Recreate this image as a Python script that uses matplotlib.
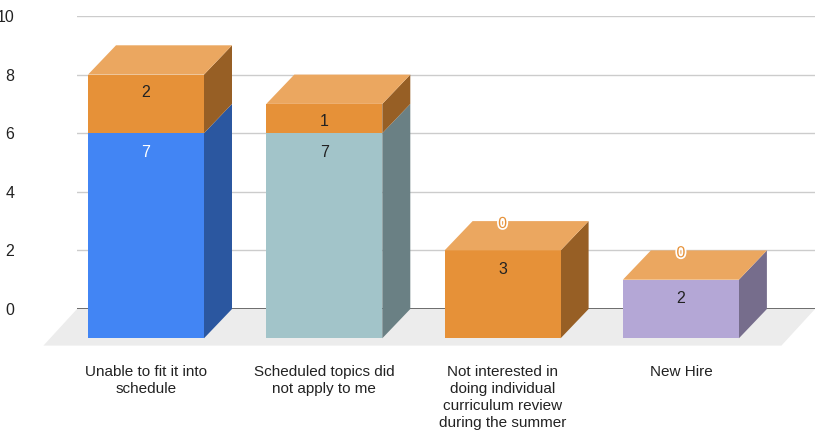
import numpy as np
import matplotlib
matplotlib.use("Agg")
import matplotlib.pyplot as plt
import matplotlib.patheffects as pe
from matplotlib.patches import Polygon

plt.rcParams['font.family'] = ['Liberation Sans', 'DejaVu Sans']

categories = ["Unable to fit it into\nschedule",
              "Scheduled topics did\nnot apply to me",
              "Not interested in\ndoing individual\ncurriculum review\nduring the summer",
              "New Hire"]
first_series = [7, 7, 3, 2]
second_series = [2, 1, 0, 0]
first_colors = ["#4285f4", "#a2c4c9", "#e69138", "#b4a7d6"]
first_label_colors = ["white", "#222222", "#222222", "#222222"]
second_color = "#e69138"
yticks = [0, 2, 4, 6, 8, 10]

W, H = 817, 438
# plot area in pixels
L, R, T, B = 77, 815, 16, 309
STEP = 178.3       # px between bars
DX = 28 / STEP     # side depth in category units
DY = 1.0           # depth in value units, front plane sits one unit lower
BW = 116 / STEP


def shade(c, f):
    r = np.array(matplotlib.colors.to_rgb(c))
    return tuple(r * f)


def tint(c, f):
    r = np.array(matplotlib.colors.to_rgb(c))
    return tuple(r + (1 - r) * f)


def draw_box(ax, x, y0, y1, color, top=True):
    x0, x1 = x - BW / 2, x + BW / 2
    # side
    ax.add_patch(Polygon([(x1, y0), (x1 + DX, y0 + DY), (x1 + DX, y1 + DY), (x1, y1)],
                         fc=shade(color, 0.655), ec='none', clip_on=False, zorder=3))
    # front
    ax.add_patch(Polygon([(x0, y0), (x1, y0), (x1, y1), (x0, y1)],
                         fc=color, ec='none', clip_on=False, zorder=4))
    if top:
        ax.add_patch(Polygon([(x0, y1), (x1, y1), (x1 + DX, y1 + DY), (x0 + DX, y1 + DY)],
                             fc=tint(color, 0.2), ec='none', clip_on=False, zorder=4))


fig = plt.figure(figsize=(W / 100, H / 100), dpi=100)
ax = fig.add_axes([L / W, 1 - B / H, (R - L) / W, (B - T) / H])
x = np.arange(len(categories))
ax.set_xlim((L - 146) / STEP, (R - 146) / STEP)
ax.set_ylim(0, 10)

ax.set_yticks(yticks)
ax.set_xticks(x)
ax.set_xticklabels(categories, fontsize=11, color="#222222", linespacing=1.3, va='top')
ax.tick_params(axis='y', length=0, pad=45, labelsize=11.5, labelcolor="#222222")
ax.tick_params(axis='x', length=0, pad=40)
ax.grid(axis='y', color="#cccccc", lw=1)
ax.set_axisbelow(True)
for s in ax.spines.values():
    s.set_visible(False)
ax.axhline(0, color="#555555", lw=1.2, zorder=1.5)

# floor
floor_low = -1.25
xl, xr = ax.get_xlim()
ax.add_patch(Polygon([(xl, 0), (xr, 0), (xr - 1.2 * DX, floor_low), (xl - 1.2 * DX, floor_low)],
                     fc="#ececec", ec='none', clip_on=False, zorder=2))

for i in x:
    a, b = first_series[i], second_series[i]
    draw_box(ax, i, -DY, a - DY, first_colors[i], top=False)
    draw_box(ax, i, a - DY, a + b - DY, second_color)
    ax.text(i, a - DY - 0.65, str(a), ha='center', va='center', fontsize=11.5,
            color=first_label_colors[i], zorder=6)
    if b > 0:
        ax.text(i, a + b - DY - 0.6, str(b), ha='center', va='center', fontsize=11.5,
                color="#222222", zorder=6)
    else:
        ax.text(i, a - DY + 0.92, str(b), ha='center', va='center', fontsize=11.5,
                color="#e69138", zorder=6,
                path_effects=[pe.withStroke(linewidth=2.5, foreground="white")])

fig.savefig("out.png", dpi=100)
